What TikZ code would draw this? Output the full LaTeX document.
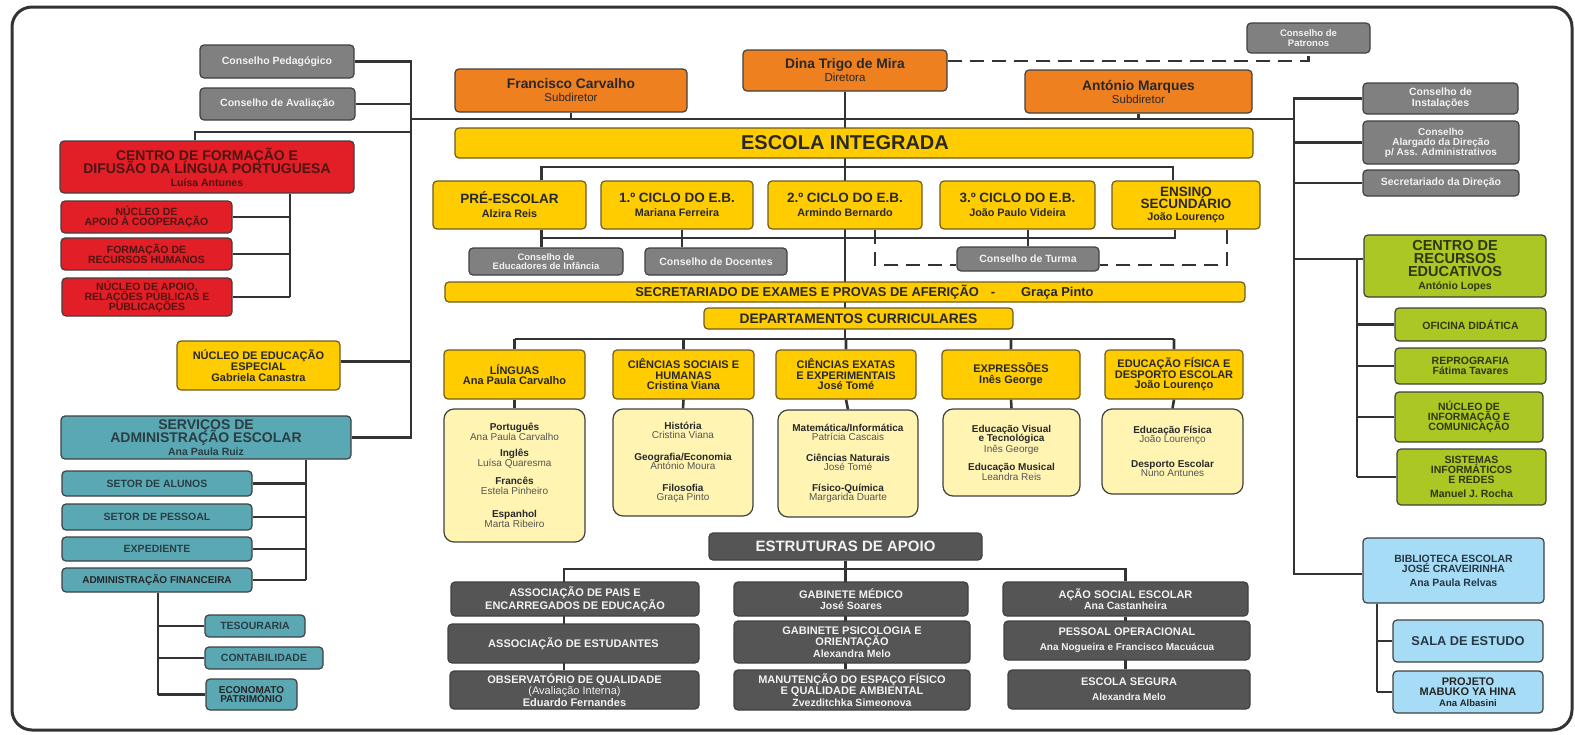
\documentclass[tikz,border=0pt]{standalone}
\usepackage{fontspec}
\setmainfont{Liberation Sans}
\usetikzlibrary{backgrounds}
\definecolor{lineDark}{RGB}{51,51,51}
\definecolor{boxEdge}{RGB}{64,64,64}
\definecolor{conselhoGray}{RGB}{128,128,128}
\definecolor{direcaoOrange}{RGB}{239,128,32}
\definecolor{escolaYellow}{RGB}{255,204,0}
\definecolor{yellowEdge}{RGB}{110,92,30}
\definecolor{notesYellow}{RGB}{255,244,178}
\definecolor{formacaoRed}{RGB}{226,30,38}
\definecolor{servicosTeal}{RGB}{90,168,179}
\definecolor{recursosGreen}{RGB}{170,199,36}
\definecolor{bibliotecaBlue}{RGB}{166,220,245}
\definecolor{apoioGray}{RGB}{85,85,85}
\definecolor{lightInk}{RGB}{242,242,242}
\definecolor{darkInk}{RGB}{40,40,40}
\definecolor{redInk}{RGB}{80,20,20}
\definecolor{tealInk}{RGB}{42,62,68}
\definecolor{greenInk}{RGB}{45,56,15}
\definecolor{blueInk}{RGB}{40,55,70}
\definecolor{nameGray}{RGB}{85,85,85}
\newcommand{\orgfs}[2]{\fontsize{#1}{#2}\selectfont\lineskiplimit=-\maxdimen}
\newcommand{\nome}[1]{{\color{nameGray}#1}}
\tikzset{
  box size/.style 2 args={minimum width=#1pt,minimum height=#2pt},
  org node/.style={rounded corners=4pt,line width=1.2pt,draw=boxEdge,align=center,inner sep=1pt},
  org gray/.style={org node,fill=conselhoGray,text=lightInk,font=\orgfs{10.5}{10.5}\bfseries},
  org orange/.style={org node,fill=direcaoOrange,text=darkInk,font=\orgfs{13.8}{13}},
  org yellow/.style={org node,fill=escolaYellow,draw=yellowEdge,text=darkInk,font=\orgfs{11}{10.5}\bfseries},
  org notes/.style={org node,rounded corners=10pt,fill=notesYellow,text=darkInk,font=\orgfs{10}{9.5}},
  org red/.style={org node,fill=formacaoRed,text=redInk,font=\orgfs{10.5}{10}\bfseries},
  org teal/.style={org node,fill=servicosTeal,text=tealInk,font=\orgfs{10.5}{10.5}\bfseries},
  org green/.style={org node,fill=recursosGreen,text=greenInk,font=\orgfs{10.5}{10}\bfseries},
  org blue/.style={org node,fill=bibliotecaBlue,text=blueInk,font=\orgfs{10.5}{10.5}\bfseries},
  org dark/.style={org node,fill=apoioGray,text=lightInk,font=\orgfs{11}{11.5}\bfseries},
  org line/.style={line width=2.6pt,draw=lineDark},
  org dash/.style={org line,dash pattern=on 14pt off 8pt}
}
\begin{document}
\begin{tikzpicture}[x=1pt,y=-1pt]
\useasboundingbox (0,0) rectangle (1575,734);
\draw[line width=3pt,draw=lineDark,rounded corners=20pt] (12,7) rectangle (1572,730);

% barramentos
\coordinate (leftBus) at (411,0);
\coordinate (rightBus) at (1294,0);
\coordinate (mainBus) at (0,119);
\coordinate (formacaoBus) at (195,132);
\coordinate (formacaoSpine) at (290,0);
\coordinate (servicosSpine) at (306,0);
\coordinate (financeiraSpine) at (158,0);
\coordinate (nivelBus) at (0,167);
\coordinate (cicloBus) at (0,238);
\coordinate (deptBus) at (0,339);
\coordinate (apoioBus) at (0,569);
\coordinate (apoioLeftCol) at (564,0);
\coordinate (recursosSpine) at (1357,0);
\coordinate (bibliotecaSpine) at (1377,0);

% lado esquerdo
\node[org gray,box size={154}{33}] (pedagogico) at (277,61.5) {Conselho Pedagógico};
\node[org gray,box size={155}{32}] (avaliacao) at (277.5,104) {Conselho de Avaliação};
\node[org red,box size={294}{52},font=\orgfs{14}{13}\bfseries] (formacao) at (207,167) {CENTRO DE FORMAÇÃO E\\DIFUSÃO DA LÍNGUA PORTUGUESA\\{\orgfs{10.5}{11}Luísa Antunes}};
\node[org red,box size={171}{32}] (nucleoCoop) at (146.5,217) {NÚCLEO DE\\APOIO À COOPERAÇÃO};
\node[org red,box size={171}{32}] (recHumanos) at (146.5,254) {FORMAÇÃO DE\\RECURSOS HUMANOS};
\node[org red,box size={170}{38}] (relacoes) at (147,297) {NÚCLEO DE APOIO,\\RELAÇÕES PÚBLICAS E\\PUBLICAÇÕES};
\node[org yellow,box size={163}{49},font=\orgfs{11}{11}\bfseries] (especial) at (258.5,365.5) {NÚCLEO DE EDUCAÇÃO\\ESPECIAL\\Gabriela Canastra};
\node[org teal,box size={290}{43},font=\orgfs{14}{13}\bfseries] (servicos) at (206,437.5) {SERVIÇOS DE\\ADMINISTRAÇÃO ESCOLAR\\{\orgfs{10.5}{11}Ana Paula Ruiz}};
\node[org teal,box size={190}{25}] (alunos) at (157,483.5) {SETOR DE ALUNOS};
\node[org teal,box size={190}{26}] (pessoal) at (157,517) {SETOR DE PESSOAL};
\node[org teal,box size={190}{24}] (expediente) at (157,549) {EXPEDIENTE};
\node[org teal,box size={190}{24},font=\orgfs{10}{10}\bfseries,text=black!85] (financeira) at (157,580) {ADMINISTRAÇÃO FINANCEIRA};
\node[org teal,box size={100}{22}] (tesouraria) at (255,626) {TESOURARIA};
\node[org teal,box size={118}{22}] (contabilidade) at (264,658) {CONTABILIDADE};
\node[org teal,box size={91}{31},font=\orgfs{10}{9.5}\bfseries,text=black!85] (economato) at (251.5,694.5) {ECONOMATO\\PATRIMÓNIO};

% direção
\node[org orange,box size={204}{41}] (diretora) at (845,70.5) {\textbf{Dina Trigo de Mira}\\{\orgfs{11.5}{12}Diretora}};
\node[org orange,box size={232}{43}] (subFC) at (571,90.5) {\textbf{Francisco Carvalho}\\{\orgfs{11.5}{12}Subdiretor}};
\node[org orange,box size={227}{43}] (subAM) at (1138.5,91.5) {\textbf{António Marques}\\{\orgfs{11.5}{12}Subdiretor}};
\node[org gray,box size={123}{30},font=\orgfs{9.5}{10}\bfseries] (patronos) at (1308.5,38) {Conselho de\\Patronos};
\node[org yellow,box size={798}{30},font=\orgfs{20}{20}\bfseries] (escola) at (854,143) {ESCOLA INTEGRADA\hspace*{18pt}};

% níveis de ensino
\node[org yellow,box size={153}{48},font=\orgfs{13.5}{14}\bfseries] (preEscolar) at (509.5,205) {PRÉ-ESCOLAR\\{\orgfs{10.8}{10}Alzira Reis}};
\node[org yellow,box size={152}{48},font=\orgfs{13.5}{14}\bfseries] (primeiroCiclo) at (677,205) {1.º CICLO DO E.B.\\{\orgfs{10.8}{10}Mariana Ferreira}};
\node[org yellow,box size={154}{48},font=\orgfs{13.5}{14}\bfseries] (segundoCiclo) at (845,205) {2.º CICLO DO E.B.\\{\orgfs{10.8}{10}Armindo Bernardo}};
\node[org yellow,box size={155}{48},font=\orgfs{13.5}{14}\bfseries] (terceiroCiclo) at (1017.5,205) {3.º CICLO DO E.B.\\{\orgfs{10.8}{10}João Paulo Videira}};
\node[org yellow,box size={148}{48},font=\orgfs{13.5}{12}\bfseries] (secundario) at (1186,205) {ENSINO\\SECUNDÁRIO\\{\orgfs{10.8}{12}João Lourenço}};
\node[org gray,box size={154}{27},font=\orgfs{9.5}{9.5}\bfseries] (educadores) at (546,261.5) {Conselho de\\Educadores de Infância};
\node[org gray,box size={142}{27}] (docentes) at (716,261.5) {Conselho de Docentes};
\node[org gray,box size={142}{24}] (turma) at (1028,259) {Conselho de Turma};
\node[org yellow,box size={800}{20},font=\orgfs{12.9}{12}\bfseries] (secretariado) at (845,292) {\hspace*{39pt}SECRETARIADO DE EXAMES E PROVAS DE AFERIÇÃO\hspace{12pt}-\hspace{26pt}Graça Pinto};
\node[org yellow,box size={309}{21},font=\orgfs{13.8}{13}\bfseries] (departamentos) at (858.5,318.5) {DEPARTAMENTOS CURRICULARES};

% departamentos curriculares
\node[org yellow,box size={141}{49}] (linguas) at (514.5,374.5) {LÍNGUAS\\Ana Paula Carvalho};
\node[org yellow,box size={141}{49}] (socHumanas) at (683.5,374.5) {CIÊNCIAS SOCIAIS E\\HUMANAS\\Cristina Viana};
\node[org yellow,box size={140}{49}] (exatas) at (846,374.5) {CIÊNCIAS EXATAS\\E EXPERIMENTAIS\\José Tomé};
\node[org yellow,box size={138}{49}] (expressoes) at (1011,374.5) {EXPRESSÕES\\Inês George};
\node[org yellow,box size={138}{49}] (educacaoFisica) at (1174,374.5) {EDUCAÇÃO FÍSICA E\\DESPORTO ESCOLAR\\João Lourenço};
\node[org notes,box size={141}{133}] (linguasNotas) at (514.5,475.5) {\textbf{Português}\\\nome{Ana Paula Carvalho}\\[7pt]\textbf{Inglês}\\\nome{Luísa Quaresma}\\[9pt]\textbf{Francês}\\\nome{Estela Pinheiro}\\[14pt]\textbf{Espanhol}\\\nome{Marta Ribeiro}};
\node[org notes,box size={140}{107}] (socHumanasNotas) at (683,462.5) {\textbf{História}\\\nome{Cristina Viana}\\[12pt]\textbf{Geografia/Economia}\\\nome{António Moura}\\[12pt]\textbf{Filosofia}\\\nome{Graça Pinto}};
\node[org notes,box size={140}{107}] (exatasNotas) at (848,463.5) {\textbf{Matemática/Informática}\\\nome{Patrícia Cascais}\\[11pt]\textbf{Ciências Naturais}\\\nome{José Tomé}\\[11pt]\textbf{Físico-Química}\\\nome{Margarida Duarte}};
\node[org notes,box size={137}{87}] (expressoesNotas) at (1011.5,452.5) {\textbf{Educação Visual}\\\textbf{e Tecnológica}\\[1pt]\nome{Inês George}\\[9pt]\textbf{Educação Musical}\\\nome{Leandra Reis}};
\node[org notes,box size={141}{85}] (educacaoFisicaNotas) at (1172.5,451.5) {\textbf{Educação Física}\\\nome{João Lourenço}\\[15pt]\textbf{Desporto Escolar}\\\nome{Nuno Antunes}};

% estruturas de apoio
\node[org dark,box size={273}{27},font=\orgfs{15}{15}\bfseries] (estruturas) at (845.5,546.5) {ESTRUTURAS DE APOIO};
\node[org dark,box size={248}{34},font=\orgfs{11}{13}\bfseries] (paisEE) at (575,599) {ASSOCIAÇÃO DE PAIS E\\ENCARREGADOS DE EDUCAÇÃO};
\node[org dark,box size={251}{39}] (estudantes) at (573.5,643.5) {ASSOCIAÇÃO DE ESTUDANTES};
\node[org dark,box size={249}{38}] (observatorio) at (574.5,690) {OBSERVATÓRIO DE QUALIDADE\\{\mdseries(Avaliação Interna)}\\Eduardo Fernandes};
\node[org dark,box size={234}{34}] (gabMedico) at (851,599) {GABINETE MÉDICO\\{\orgfs{10.5}{12}José Soares}};
\node[org dark,box size={236}{42}] (psicologia) at (852,642) {GABINETE PSICOLOGIA E\\ORIENTAÇÃO\\{\orgfs{10.5}{12}Alexandra Melo}};
\node[org dark,box size={236}{40}] (manutencao) at (852,690) {MANUTENÇÃO DO ESPAÇO FÍSICO\\E QUALIDADE AMBIENTAL\\{\orgfs{10.5}{11}Zvezditchka Simeonova}};
\node[org dark,box size={245}{34}] (acaoSocial) at (1125.5,599) {AÇÃO SOCIAL ESCOLAR\\{\orgfs{10.5}{12}Ana Castanheira}};
\node[org dark,box size={246}{39},font=\orgfs{11}{15}\bfseries] (pessoalOp) at (1127,640.5) {PESSOAL OPERACIONAL\\{\orgfs{10}{14}Ana Nogueira e Francisco Macuácua}};
\node[org dark,box size={242}{39},font=\orgfs{11}{15}\bfseries] (escolaSegura) at (1129,689.5) {ESCOLA SEGURA\\{\orgfs{10}{14}Alexandra Melo}};

% lado direito
\node[org gray,box size={155}{31},font=\orgfs{10.5}{10.5}\bfseries] (instalacoes) at (1440.5,98.5) {Conselho de\\Instalações};
\node[org gray,box size={156}{43},font=\orgfs{10}{10}\bfseries] (alargado) at (1441,142.5) {Conselho\\Alargado da Direção\\p/ Ass. Administrativos};
\node[org gray,box size={156}{26}] (secDirecao) at (1441,183) {Secretariado da Direção};
\node[org green,box size={182}{62},font=\orgfs{14.5}{13}\bfseries] (recursos) at (1455,266) {CENTRO DE\\RECURSOS\\EDUCATIVOS\\{\orgfs{10.5}{12}António Lopes}};
\node[org green,box size={151}{33}] (oficina) at (1470.5,324.5) {OFICINA DIDÁTICA};
\node[org green,box size={151}{36}] (reprografia) at (1470.5,366) {REPROGRAFIA\\Fátima Tavares};
\node[org green,box size={148}{50}] (nucleoInfo) at (1469,417) {NÚCLEO DE\\INFORMAÇÃO E\\COMUNICAÇÃO};
\node[org green,box size={149}{56}] (sistemas) at (1471.5,477) {SISTEMAS\\INFORMÁTICOS\\E REDES\\[4pt]Manuel J. Rocha};
\node[org blue,box size={181}{65}] (biblioteca) at (1453.5,570.5) {BIBLIOTECA ESCOLAR\\JOSÉ CRAVEIRINHA\\[3pt]Ana Paula Relvas};
\node[org blue,box size={150}{42},font=\orgfs{12.8}{13}\bfseries] (salaEstudo) at (1468,641) {SALA DE ESTUDO};
\node[org blue,box size={150}{42},font=\orgfs{11}{10.5}\bfseries,text=black!85] (mabuko) at (1468,692) {PROJETO\\MABUKO YA HINA\\{\orgfs{9.5}{11}Ana Albasini}};

\begin{scope}[on background layer]
  % conselhos e centro de formação
  \draw[org line] (pedagogico.east) -- (pedagogico.east -| leftBus) -- (servicos.east -| leftBus) -- (servicos.east);
  \draw[org line] (avaliacao.east) -- (avaliacao.east -| leftBus);
  \draw[org line] ([yshift=4pt]especial.east) -- ([yshift=4pt]especial.east -| leftBus);
  \draw[org line] (leftBus |- formacaoBus) -- (formacaoBus) -- (formacaoBus |- formacao.north);
  \draw[org line] (leftBus |- mainBus) -- (rightBus |- mainBus);
  \draw[org line] (formacao.south -| formacaoSpine) -- (relacoes.east -| formacaoSpine);
  \foreach \sub in {nucleoCoop,recHumanos,relacoes}
    \draw[org line] (\sub.east) -- (\sub.east -| formacaoSpine);
  \draw[org line] (servicos.south -| servicosSpine) -- (financeira.east -| servicosSpine);
  \foreach \sub in {alunos,pessoal,expediente,financeira}
    \draw[org line] (\sub.east) -- (\sub.east -| servicosSpine);
  \draw[org line] (financeira.south -| financeiraSpine) -- (economato.west -| financeiraSpine);
  \foreach \sub in {tesouraria,contabilidade,economato}
    \draw[org line] (\sub.west) -- (\sub.west -| financeiraSpine);
  % direção
  \draw[org line] (diretora.south) -- (diretora.south |- deptBus);
  \draw[org line] (subFC.south) -- (subFC.south |- mainBus);
  \draw[org line] (subAM.south) -- (subAM.south |- mainBus);
  \draw[org dash] ([yshift=9.5pt]diretora.east) -| (patronos.south);
  % níveis
  \draw[org line] ([xshift=32pt]preEscolar.north) |- (nivelBus -| diretora.south) -| ([xshift=-13pt]secundario.north);
  \draw[org line] ([xshift=32pt]preEscolar.south) -- ([xshift=32pt]preEscolar.south |- educadores.north);
  \draw[org line] ([xshift=32pt]preEscolar.south |- cicloBus) -| ([xshift=-11pt]secundario.south);
  \draw[org line] ([xshift=5pt]primeiroCiclo.south) -- ([xshift=5pt]primeiroCiclo.south |- docentes.north);
  \draw[org line] (terceiroCiclo.south -| turma.north) -- (turma.north);
  \draw[org dash] ([xshift=30pt]segundoCiclo.south) |- ([yshift=-6pt]turma.west);
  \draw[org dash] ([xshift=41pt]secundario.south) |- ([yshift=-6pt]turma.east);
  % departamentos
  \draw[org line] (linguas.north |- deptBus) -- (educacaoFisica.north |- deptBus);
  \foreach \dep in {linguas,socHumanas,exatas,expressoes,educacaoFisica}
    \draw[org line] (\dep.north) -- (\dep.north |- deptBus) (\dep.south) -- (\dep Notas.north);
  % estruturas de apoio
  \draw[org line] (estruturas.south) -- (estruturas.south |- manutencao.north);
  \draw[org line] (observatorio.north -| apoioLeftCol) -- (apoioBus -| apoioLeftCol) -| (acaoSocial.north);
  \draw[org line] (acaoSocial.south) -- (acaoSocial.south |- escolaSegura.north);
  % lado direito
  \draw[org line] (instalacoes.west) -- (instalacoes.west -| rightBus) -- ([yshift=-3.5pt]biblioteca.west -| rightBus) -- ([yshift=-3.5pt]biblioteca.west);
  \draw[org line] (alargado.west) -- (alargado.west -| rightBus);
  \draw[org line] (secDirecao.west) -- (secDirecao.west -| rightBus);
  \draw[org line] ([yshift=7pt]recursos.west) -- ([yshift=7pt]recursos.west -| rightBus);
  \draw[org line] ([yshift=7pt]recursos.west -| recursosSpine) -- (sistemas.west -| recursosSpine);
  \foreach \sub in {oficina,reprografia,nucleoInfo,sistemas}
    \draw[org line] (\sub.west) -- (\sub.west -| recursosSpine);
  \draw[org line] (biblioteca.south -| bibliotecaSpine) -- (mabuko.west -| bibliotecaSpine);
  \foreach \sub in {salaEstudo,mabuko}
    \draw[org line] (\sub.west) -- (\sub.west -| bibliotecaSpine);
\end{scope}
\end{tikzpicture}
\end{document}
